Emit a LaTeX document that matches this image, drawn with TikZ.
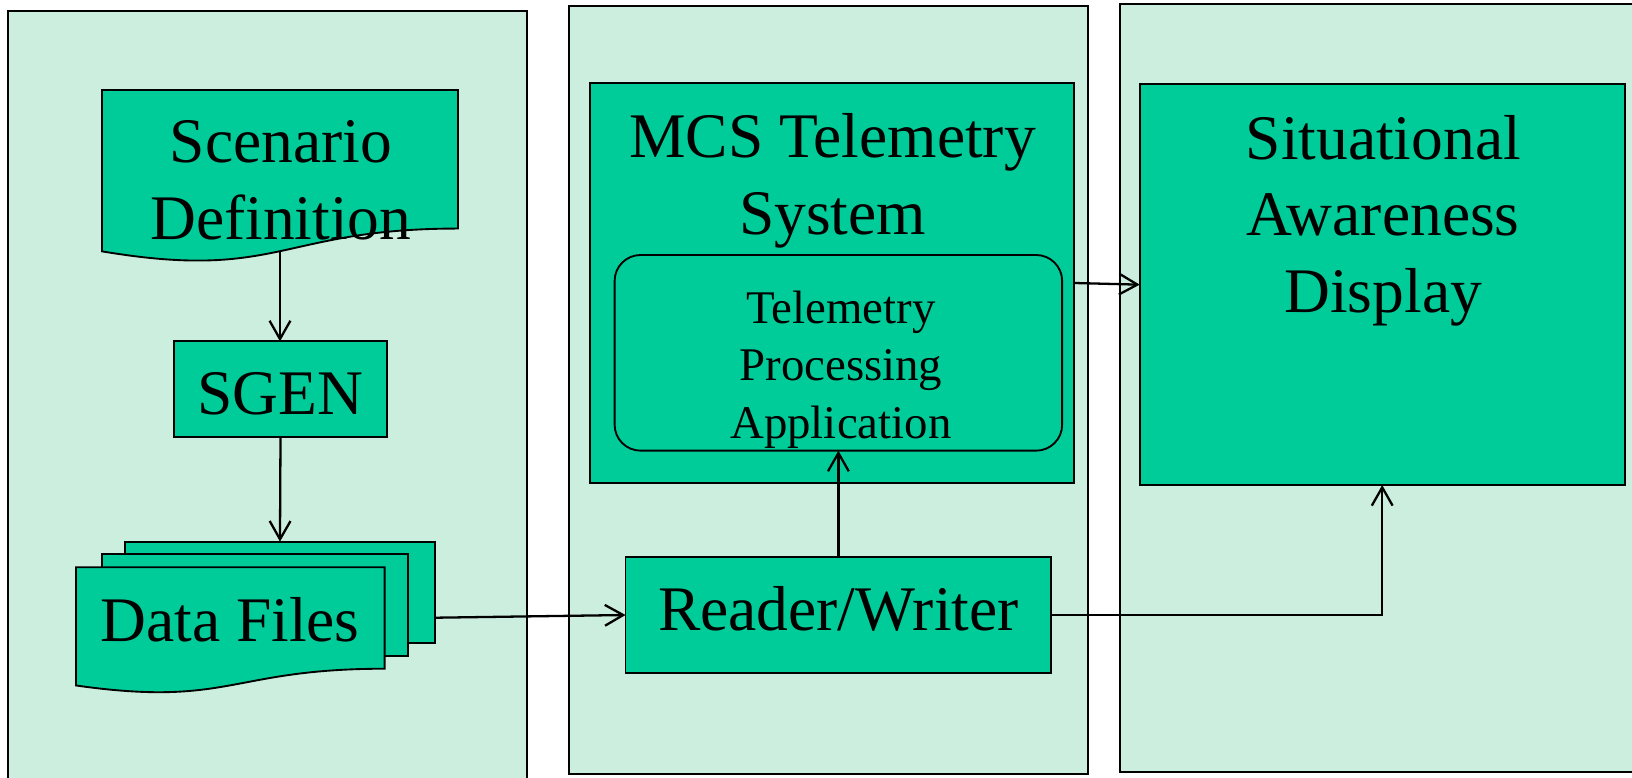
\documentclass[tikz,border=0pt]{standalone}
\usepackage{fontspec}
\setmainfont{Liberation Serif}
\usetikzlibrary{arrows.meta}
\definecolor{panelc}{RGB}{204,238,222}
\definecolor{boxc}{RGB}{0,204,153}
\begin{document}
\begin{tikzpicture}[x=0.5pt,y=-0.5pt,
  panel/.style={draw=black,line width=0.9pt,fill=panelc},
  box/.style={draw=black,line width=0.9pt,fill=boxc,inner sep=0pt,outer sep=0pt},
  arr/.style={line width=1.1pt,-{Straight Barb[length=8.8pt,width=10pt]}},
  bigtxt/.style={font=\fontsize{30.5}{36.8}\selectfont,inner sep=0pt,anchor=base},
  midtxt/.style={font=\fontsize{22.5}{27.5}\selectfont,inner sep=0pt,anchor=base}]
\clip (0,0) rectangle (1568,747);
\fill[white] (0,0) rectangle (1568,747);
% panels
\draw[panel] (8,10.2) rectangle (506,800);
\draw[panel] (547,5.8) rectangle (1045,743.7);
\draw[panel] (1076,4) rectangle (1620,742);
% Scenario Definition (document shape)
\draw[box] (98,86.5) -- (440,86.5) -- (440,219.6) .. controls (269,219.6) and (269,270.3) .. (98,241.5) -- cycle;
\coordinate (sdbot) at (269,241.35);
\node[bigtxt] (sdtext) at (269.8,156.3) {\begin{tabular}[t]{@{}c@{}}Scenario\\Definition\end{tabular}};
% SGEN
\node[box,minimum width=102.5pt,minimum height=45.75pt] (sgen) at (269.5,373.75) {};
\node[bigtxt] (sgentext) at (269.5,398.5) {SGEN};
% Data Files (multi-document)
\draw[box] (120.5,520.4) rectangle (417.6,618);
\draw[box] (97.8,532.3) rectangle (392,630.6);
\draw[box] (73,545) -- (369.5,545) -- (369.5,642.5) .. controls (221.25,642.5) and (221.25,679.7) .. (73,658.6) -- cycle;
\node[bigtxt] (dftext) at (221,616.3) {Data Files};
\coordinate (dftop) at (269,520.4);
\coordinate (dfout) at (417.6,593.5);
% MCS Telemetry System
\node[box,minimum width=232.5pt,minimum height=192.5pt] (mcs) at (799.5,271.9) {};
\node[bigtxt] (mcstext) at (799.9,151.5) {\begin{tabular}[t]{@{}c@{}}MCS Telemetry\\System\end{tabular}};
\node[box,rounded corners=12.5pt,minimum width=215pt,minimum height=94pt] (tpa) at (805.5,339) {};
\node[midtxt] (tpatext) at (807.9,310.9) {\begin{tabular}[t]{@{}c@{}}Telemetry\\Processing\\Application\end{tabular}};
% Reader/Writer
\node[box,minimum width=204.5pt,minimum height=55.4pt] (rw) at (805.5,590.9) {};
\node[bigtxt] (rwtext) at (805.5,606.2) {Reader/Writer};
% Situational Awareness Display
\node[box,minimum width=233pt,minimum height=192.5pt] (sad) at (1328,273.5) {};
\node[bigtxt] (sadtext) at (1329,153) {\begin{tabular}[t]{@{}c@{}}Situational\\Awareness\\Display\end{tabular}};
% connectors
\draw[arr] (sdbot) -- (sdbot |- sgen.north);
\draw[arr] (sgen.south) -- (dftop);
\draw[arr] (dfout) -- (rw.west);
\draw[arr] (rw.north) -- (tpa.south);
\draw[arr] (mcs.east) -- (sad.west);
\draw[arr] (rw.east) -| (sad.south);
\end{tikzpicture}
\end{document}
